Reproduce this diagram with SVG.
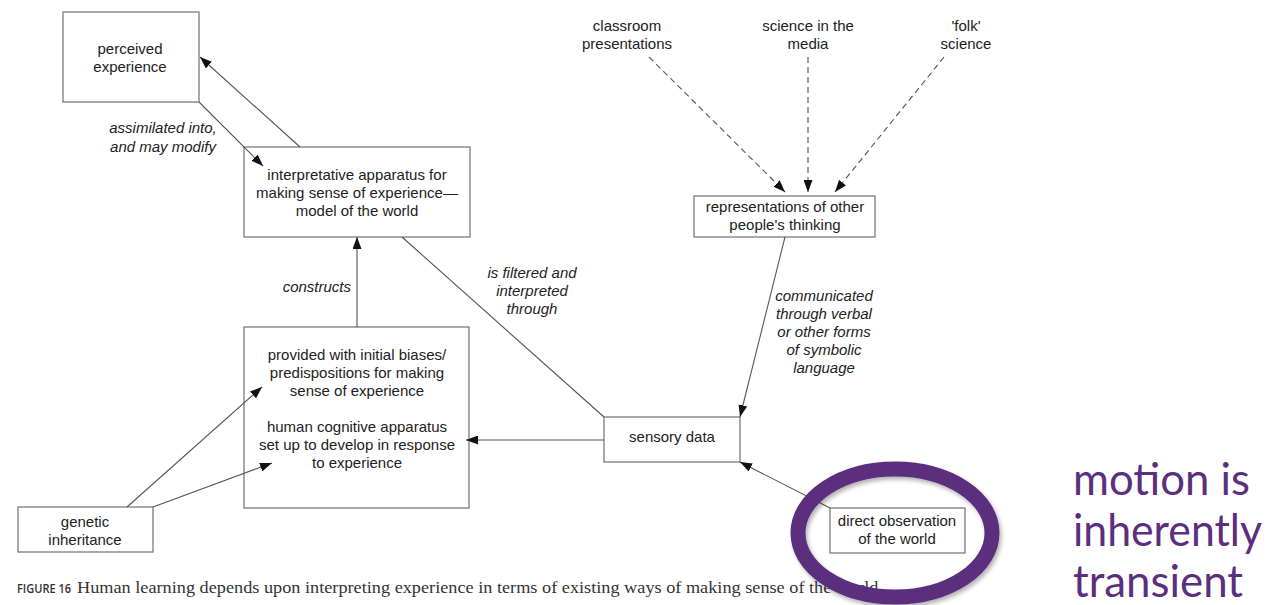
<svg xmlns="http://www.w3.org/2000/svg" width="1269" height="605" viewBox="0 0 1269 605">
  <style>
    .box { fill: #ffffff; stroke: #707070; stroke-width: 1.2; }
    .lbl { font-family: "Liberation Sans", Arial, sans-serif; font-size: 15px; fill: #222222; text-anchor: middle; }
    .it { font-style: italic; }
    .edge { fill: none; stroke: #555555; stroke-width: 1.1; }
    .dash { stroke-dasharray: 6 4; }
    .cap-b { font-family: "Open Sans", "Liberation Sans", sans-serif; font-weight: 600; font-size: 13px; fill: #333333; }
    .cap { font-family: "Liberation Serif", "Times New Roman", serif; font-size: 16.5px; fill: #333333; }
    .note { font-family: Lato, "Open Sans", sans-serif; font-size: 44px; fill: #5c2e7e; }
  </style>
  <defs>
    <marker id="arrow" markerWidth="12" markerHeight="9" refX="12" refY="4.5" orient="auto" markerUnits="userSpaceOnUse">
      <path d="M0,0 L12,4.5 L0,9 z" fill="#111111"/>
    </marker>
    <filter id="ringShadow" x="-20%" y="-20%" width="140%" height="140%">
      <feDropShadow dx="2" dy="3" stdDeviation="2" flood-color="#000000" flood-opacity="0.3"/>
    </filter>
  </defs>

  <g id="perceived-experience">
    <rect class="box" x="63" y="12" width="136" height="90"/>
    <text class="lbl" x="130" y="54">perceived</text>
    <text class="lbl" x="130" y="72">experience</text>
  </g>

  <g id="interpretative-apparatus">
    <rect class="box" x="244" y="147" width="226" height="90"/>
    <text class="lbl" x="357" y="180">interpretative apparatus for</text>
    <text class="lbl" x="357" y="198">making sense of experience—</text>
    <text class="lbl" x="357" y="216">model of the world</text>
  </g>

  <g id="cognitive-apparatus">
    <rect class="box" x="244" y="327" width="225" height="181"/>
    <text class="lbl" x="357" y="360">provided with initial biases/</text>
    <text class="lbl" x="357" y="378">predispositions for making</text>
    <text class="lbl" x="357" y="396">sense of experience</text>
    <text class="lbl" x="357" y="432">human cognitive apparatus</text>
    <text class="lbl" x="357" y="450">set up to develop in response</text>
    <text class="lbl" x="357" y="468">to experience</text>
  </g>

  <g id="genetic-inheritance">
    <rect class="box" x="18" y="507" width="135" height="45"/>
    <text class="lbl" x="85" y="527">genetic</text>
    <text class="lbl" x="85" y="545">inheritance</text>
  </g>

  <g id="sensory-data">
    <rect class="box" x="604" y="417" width="136" height="45"/>
    <text class="lbl" x="672" y="442">sensory data</text>
  </g>

  <g id="representations">
    <rect class="box" x="694" y="196" width="181" height="41"/>
    <text class="lbl" x="785" y="212">representations of other</text>
    <text class="lbl" x="785" y="230">people's thinking</text>
  </g>

  <g id="classroom-presentations">
    <text class="lbl" x="627" y="31">classroom</text>
    <text class="lbl" x="627" y="49">presentations</text>
  </g>

  <g id="science-in-the-media">
    <text class="lbl" x="808" y="31">science in the</text>
    <text class="lbl" x="808" y="49">media</text>
  </g>

  <g id="folk-science">
    <text class="lbl" x="966" y="31">'folk'</text>
    <text class="lbl" x="966" y="49">science</text>
  </g>

  <g id="direct-observation">
    <rect class="box" x="830" y="508" width="135" height="45"/>
    <text class="lbl" x="897" y="526">direct observation</text>
    <text class="lbl" x="897" y="544">of the world</text>
  </g>

  <!-- connectors, drawn above the boxes so arrowheads that reach inside stay visible -->
  <g id="connectors">
    <line class="edge" x1="300" y1="147" x2="200" y2="57" marker-end="url(#arrow)"/>
    <line class="edge" x1="199" y1="102" x2="263" y2="166" marker-end="url(#arrow)"/>
    <line class="edge" x1="357" y1="327" x2="357" y2="237" marker-end="url(#arrow)"/>
    <line class="edge" x1="402" y1="237" x2="604" y2="417"/>
    <line class="edge" x1="785" y1="237" x2="740" y2="417" marker-end="url(#arrow)"/>
    <line class="edge" x1="604" y1="440" x2="466" y2="440" marker-end="url(#arrow)"/>
    <line class="edge" x1="830" y1="508" x2="740" y2="462" marker-end="url(#arrow)"/>
    <line class="edge" x1="127" y1="507" x2="262" y2="387" marker-end="url(#arrow)"/>
    <line class="edge" x1="153" y1="507" x2="272" y2="463" marker-end="url(#arrow)"/>
    <line class="edge dash" x1="649" y1="57" x2="785" y2="192" marker-end="url(#arrow)"/>
    <line class="edge dash" x1="808" y1="57" x2="808" y2="192" marker-end="url(#arrow)"/>
    <line class="edge dash" x1="944" y1="57" x2="835" y2="192" marker-end="url(#arrow)"/>
    <!-- connector labels -->
    <text class="lbl it" x="163" y="133">assimilated into,</text>
    <text class="lbl it" x="163" y="152">and may modify</text>
    <text class="lbl it" x="351" y="292" style="text-anchor:end">constructs</text>
    <text class="lbl it" x="532" y="278">is filtered and</text>
    <text class="lbl it" x="532" y="296">interpreted</text>
    <text class="lbl it" x="532" y="314">through</text>
    <text class="lbl it" x="824" y="301">communicated</text>
    <text class="lbl it" x="824" y="319">through verbal</text>
    <text class="lbl it" x="824" y="337">or other forms</text>
    <text class="lbl it" x="824" y="355">of symbolic</text>
    <text class="lbl it" x="824" y="373">language</text>
  </g>

  <!-- figure caption -->
  <g id="caption">
    <text class="cap-b" x="17" y="593" textLength="54" lengthAdjust="spacingAndGlyphs">FIGURE 16</text>
    <text class="cap" x="77" y="593" textLength="806" lengthAdjust="spacingAndGlyphs">Human learning depends upon interpreting experience in terms of existing ways of making sense of the world.</text>
  </g>

  <!-- highlight ring and side note -->
  <ellipse cx="895" cy="533" rx="97" ry="64" fill="none" stroke="#5c2e7e" stroke-width="15" filter="url(#ringShadow)"/>
  <g id="note">
    <text class="note" x="1073" y="495" textLength="177" lengthAdjust="spacingAndGlyphs">motion is</text>
    <text class="note" x="1073" y="546" textLength="189" lengthAdjust="spacingAndGlyphs">inherently</text>
    <text class="note" x="1073" y="597" textLength="170" lengthAdjust="spacingAndGlyphs">transient</text>
  </g>
</svg>
